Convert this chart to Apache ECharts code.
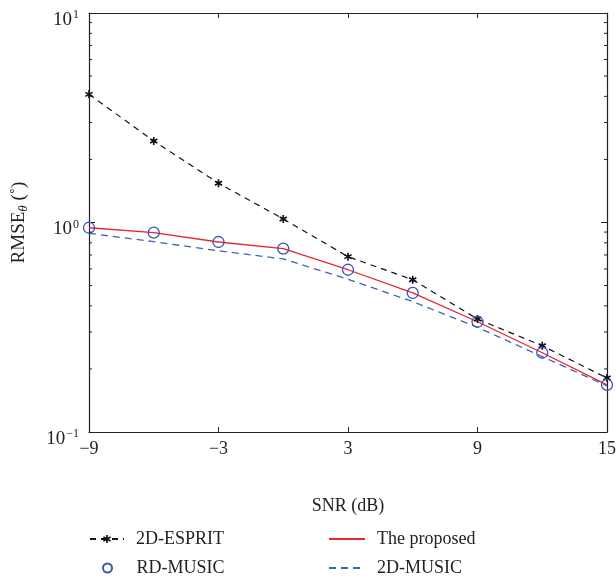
<!DOCTYPE html>
<html>
<head>
<meta charset="utf-8">
<script src="https://cdn.jsdelivr.net/npm/echarts@6/dist/echarts.min.js"></script>
<style>
html,body{margin:0;padding:0;background:#fff;}
#main{width:616px;height:580px;}
</style>
</head>
<body>
<div id="main"></div>
<script>
// SNR (dB) points
var snr = [-9, -6, -3, 0, 3, 6, 9, 12, 15];
var espritData = [4.09, 2.45, 1.54, 1.04, 0.687, 0.533, 0.346, 0.258, 0.181];
var proposedData = [0.944, 0.894, 0.807, 0.750, 0.595, 0.461, 0.336, 0.239, 0.168];
var rdMusicData = [0.944, 0.894, 0.807, 0.750, 0.595, 0.461, 0.336, 0.239, 0.168];
var music2dData = [0.888, 0.810, 0.733, 0.670, 0.536, 0.419, 0.316, 0.229, 0.166];
var minorTickValues = [0.2, 0.3, 0.4, 0.5, 0.6, 0.7, 0.8, 0.9, 2, 3, 4, 5, 6, 7, 8, 9];

var snrMin = -9, snrMax = 15;
var fontName = "Liberation Serif";

// x axis is run on an offset scale (SNR + 9) so ticks start at 0
function toPairs(vals){
	var out = [];
	for (var i = 0; i < snr.length; i++){
		out.push([snr[i] - snrMin, vals[i]]);
	}
	return out;
}

var starPath = 'path://M3.83,-3.39 L4.83,-1.61 L-3.83,3.39 L-4.83,1.61 Z M4.83,1.61 L3.83,3.39 L-4.83,-1.61 L-3.83,-3.39 Z M-1,-5 L1,-5 L1,5 L-1,5 Z';

function legendBox(name, left, top, w, h, extra){
	var lg = {
		left: left, top: top, itemWidth: w, itemHeight: h,
		textStyle: { fontFamily: fontName, fontSize: 18, color: '#222', padding: [0, 0, 0, 7] },
		data: [name]
	};
	if (extra) lg.data = [Object.assign({ name: name }, extra)];
	return lg;
}

var dom = document.getElementById('main');
var myChart = echarts.init(dom);
var option = {
	backgroundColor: '#fff',
	animation: false,
	grid: { left: 89, right: 9, top: 13, bottom: 148, outerBoundsMode: 'none', containLabel: false },
	legend: [
		legendBox('2D-ESPRIT', 84, 525, 34, 10),
		legendBox('RD-MUSIC', 97, 554, 34, 9),
		legendBox('The proposed', 323, 525, 36, 10, { itemStyle: { opacity: 0 } }),
		legendBox('2D-MUSIC', 323, 554, 36, 10, { itemStyle: { opacity: 0 } })
	],
	xAxis: [
		{
			type: 'value', min: 0, max: snrMax - snrMin, interval: 6,
			name: 'SNR (dB)', nameLocation: 'middle', nameGap: 65,
			nameTextStyle: { fontFamily: fontName, fontSize: 18, color: '#222' },
			axisLine: { show: true, onZero: false, lineStyle: { color: '#222', width: 1.2 } },
			axisTick: { inside: true, length: 5, lineStyle: { color: '#222' } },
			axisLabel: {
				fontFamily: fontName, fontSize: 18, color: '#222', margin: 8,
				formatter: function (v) {
					var s = v + snrMin;
					return s < 0 ? '\u2212' + Math.abs(s) : String(s);
				}
			},
			splitLine: { show: false }
		},
		{
			type: 'value', position: 'top', min: 0, max: snrMax - snrMin, interval: 6,
			axisLine: { show: true, onZero: false, lineStyle: { color: '#222', width: 1.2 } },
			axisTick: { show: true, inside: true, length: 5, lineStyle: { color: '#222' } },
			axisLabel: { show: false },
			splitLine: { show: false }
		}
	],
	yAxis: [
		{
			type: 'log', logBase: 10, min: 0.1, max: 10,
			name: '{a|RMSE}{b|\u03b8}{a| (\u02da)}', nameLocation: 'middle', nameRotate: 90, nameGap: 59,
			nameTextStyle: {
				rich: {
					a: { fontFamily: fontName, fontSize: 19, color: '#222', lineHeight: 22 },
					b: { fontFamily: fontName, fontSize: 13, fontStyle: 'italic', color: '#222', lineHeight: 22, padding: [9, 0, 0, 0] }
				}
			},
			axisLine: { show: true, onZero: false, lineStyle: { color: '#222', width: 1.2 } },
			axisTick: { show: true, inside: true, length: 6, lineStyle: { color: '#222' } },
			axisLabel: {
				margin: 10, padding: [14, 0, 0, 0],
				formatter: function (v) {
					var e = Math.round(Math.log(v) / Math.LN10);
					return '{base|10}{sup|' + (e < 0 ? '\u2212' + Math.abs(e) : e) + '}';
				},
				rich: {
					base: { fontFamily: fontName, fontSize: 19, color: '#222' },
					sup: { fontFamily: fontName, fontSize: 12, color: '#222', verticalAlign: 'top', padding: [0, 0, 10, 1] }
				}
			},
			splitLine: { show: false }
		},
		{
			type: 'log', logBase: 10, min: 0.1, max: 10, position: 'right',
			axisLine: { show: true, onZero: false, lineStyle: { color: '#222', width: 1.2 } },
			axisTick: { show: true, inside: true, length: 6, lineStyle: { color: '#222' } },
			axisLabel: { show: false },
			splitLine: { show: false }
		}
	],
	series: [
		{
			name: '2D-MUSIC', type: 'line', data: toPairs(music2dData),
			symbol: 'none', color: '#3d63b4',
			lineStyle: { color: '#3d63b4', width: 1.3, type: [7, 5] },
			z: 2
		},
		{
			name: 'The proposed', type: 'line', data: toPairs(proposedData),
			symbol: 'none', color: '#e8262b',
			lineStyle: { color: '#e8262b', width: 1.3 },
			z: 3
		},
		{
			name: '2D-ESPRIT', type: 'line', data: toPairs(espritData),
			symbol: starPath, symbolSize: 8, color: '#111',
			itemStyle: { color: '#111' },
			lineStyle: { color: '#111', width: 1.2, type: [6, 5] },
			z: 4
		},
		{
			name: 'RD-MUSIC', type: 'scatter', data: toPairs(rdMusicData),
			symbol: 'circle', symbolSize: 11, color: '#3a55b4',
			itemStyle: { color: 'rgba(255,255,255,0)', borderColor: '#3a55b4', borderWidth: 1.3, opacity: 1 },
			z: 5
		},
		{
			// minor log ticks on both left and right axes
			type: 'custom', silent: true, clip: false, z: 6,
			data: minorTickValues.map(function (v) { return [0, v]; }),
			renderItem: function (params, api) {
				var v = api.value(1);
				var pl = api.coord([0, v]);
				var pr = api.coord([snrMax - snrMin, v]);
				return {
					type: 'group',
					children: [
						{ type: 'line', shape: { x1: pl[0], y1: pl[1], x2: pl[0] + 3, y2: pl[1] }, style: { stroke: '#222', lineWidth: 1 } },
						{ type: 'line', shape: { x1: pr[0], y1: pr[1], x2: pr[0] - 3, y2: pr[1] }, style: { stroke: '#222', lineWidth: 1 } }
					]
				};
			}
		}
	]
};

if (option && typeof option === "object") {
	myChart.setOption(option, true);
}
</script>
</body>
</html>
